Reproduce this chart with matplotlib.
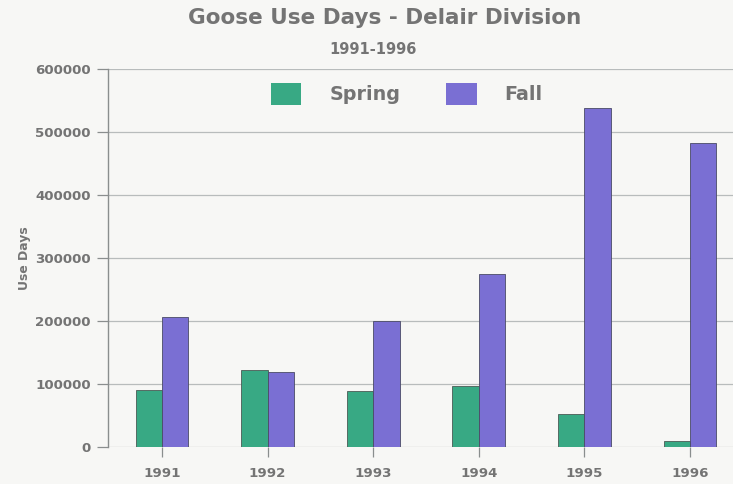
import numpy as np
import matplotlib
matplotlib.use('Agg')
import matplotlib.pyplot as plt
from matplotlib.patches import Patch

years = ['1991', '1992', '1993', '1994', '1995', '1996']
spring = [91000, 123000, 89000, 97000, 52000, 9000]
fall = [207000, 119000, 200000, 275000, 538000, 482000]

plt.rcParams['font.family'] = ['DejaVu Sans']
plt.rcParams['font.weight'] = 'bold'

txt = '#747474'
green = '#38a984'
purple = '#7a6fd3'
bg = '#f7f7f5'

fig = plt.figure(figsize=(7.33, 4.84), dpi=100, facecolor=bg)
ax = fig.add_axes([108 / 733, 37 / 484, 1 - 108 / 733, 378 / 484], facecolor=bg)

x = np.arange(len(years))
w = 0.25
ax.bar(x - w / 2, spring, w, color=green, edgecolor='#4a5a55', linewidth=0.6, zorder=3)
ax.bar(x + w / 2, fall, w, color=purple, edgecolor='#4a4a66', linewidth=0.6, zorder=3)

ax.set_xlim(-0.511, 5.407)
ax.set_ylim(0, 600000)
ax.set_yticks(np.arange(0, 600001, 100000))
ax.set_xticks(x)
ax.set_xticklabels(years)
ax.grid(axis='y', color='#b8bcbc', linewidth=0.9, zorder=0)

for s in ['top', 'right', 'bottom']:
    ax.spines[s].set_visible(False)
ax.spines['left'].set_color('#8a8e8e')
ax.spines['left'].set_linewidth(1.0)

ax.tick_params(axis='y', length=8, width=0.9, color='#8a8e8e', labelsize=9.6, labelcolor=txt, pad=4.5)
ax.tick_params(axis='x', length=7.5, width=0.9, color='#8a8e8e', labelsize=9.6, labelcolor=txt, pad=7)

ax.set_ylabel('Use Days', fontsize=8.9, color=txt, fontweight='bold', labelpad=3)

fig.text(385 / 733, 1 - 18 / 484, 'Goose Use Days - Delair Division', ha='center', va='center',
         fontsize=15.5, fontweight='bold', color=txt)
fig.text(373 / 733, 1 - 49 / 484, '1991-1996', ha='center', va='center', fontsize=10.5,
         fontweight='bold', color=txt)

handles = [Patch(facecolor=green, edgecolor='none'), Patch(facecolor=purple, edgecolor='none')]
leg = ax.legend(handles, ['Spring', 'Fall'], ncol=2, loc='center', bbox_to_anchor=(0.478, 0.934),
                frameon=False, fontsize=13.8, handlelength=1.6, handleheight=1.35,
                handletextpad=1.45, columnspacing=2.4)
for t in leg.get_texts():
    t.set_color(txt)

fig.savefig('out.png', dpi=100, facecolor=bg)
